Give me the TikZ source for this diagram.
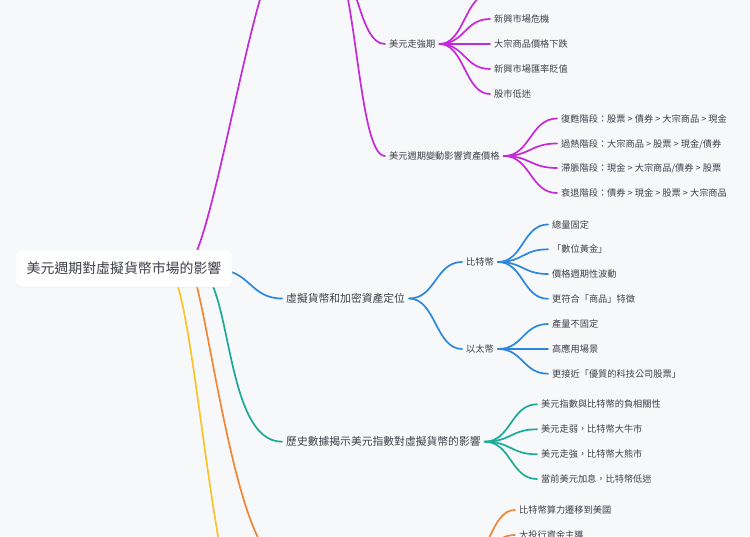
\documentclass[tikz,border=0pt]{standalone}
\usepackage{fontspec}
\setmainfont{Noto Sans CJK TC}
\usetikzlibrary{calc, shadows}
\definecolor{purple1}{RGB}{196, 43, 214}
\definecolor{blue1}{RGB}{45, 135, 220}
\definecolor{teal1}{RGB}{28, 170, 150}
\definecolor{orange1}{RGB}{240, 135, 55}
\definecolor{yellow1}{RGB}{250, 196, 45}
\definecolor{ink}{RGB}{62, 64, 72}
\definecolor{paper}{RGB}{247, 248, 250}

\begin{document}
\begin{tikzpicture}[x=1pt, y=-1pt,
  topic/.style={anchor=west, inner xsep=4pt, inner ysep=0pt, text=ink, text height=9.5pt, text depth=1.3pt, font=\fontsize{10.8}{13}\selectfont},
  leaf/.style={topic, text height=8.1pt, text depth=1.1pt, font=\fontsize{9.2}{11}\selectfont},
  rootbox/.style={fill=white, draw=black!5, rounded corners=4pt, minimum width=216pt, minimum height=37pt, text=ink, font=\fontsize{13.9}{16}\selectfont, drop shadow={shadow xshift=0pt, shadow yshift=-1pt, opacity=0.06}},
  wire/.style={line width=1.7pt, line cap=round},
  link/.style={wire, to path={let \p1=(\tikztostart), \p2=(\tikztotarget) in .. controls ({(\x1+\x2)/2},\y1) and ({(\x1+\x2)/2},\y2) .. (\tikztotarget)}}
]
  \fill[paper] (0,0) rectangle (750,536);
  \useasboundingbox (0,0) rectangle (750,536);
  \clip (0,0) rectangle (750,536);

  % hidden ends of branches cut by the frame
  \coordinate (pur) at (282,-47);
  \coordinate (purr) at (328,-47);
  \coordinate (ora) at (282,562);
  \coordinate (orar) at (465,562);
  \coordinate (yel) at (282,700);
  \coordinate (s0) at (490,-6);

  % purple branch
  \node[leaf] (strong) at (385,44) {美元走強期};
  \node[leaf] (s1) at (490,19) {新興市場危機};
  \node[leaf] (s2) at (490,44) {大宗商品價格下跌};
  \node[leaf] (s3) at (490,69) {新興市場匯率貶值};
  \node[leaf] (s4) at (490,94) {股市低迷};
  \node[leaf] (cycle) at (385,156) {美元週期變動影響資產價格};
  \node[leaf] (c1) at (557,118.5) {復甦階段：股票 > 債券 > 大宗商品 > 現金};
  \node[leaf] (c2) at (557,143.5) {過熱階段：大宗商品 > 股票 > 現金/債券};
  \node[leaf] (c3) at (557,168) {滯脹階段：現金 > 大宗商品/債券 > 股票};
  \node[leaf] (c4) at (557,193) {衰退階段：債券 > 現金 > 股票 > 大宗商品};

  % blue branch
  \node[topic] (crypto) at (282,298.5) {虛擬貨幣和加密資產定位};
  \node[leaf] (btc) at (462,262) {比特幣};
  \node[leaf] (b1) at (548,224.5) {總量固定};
  \node[leaf] (b2) at (548,249.3) {「數位黃金」};
  \node[leaf] (b3) at (548,274) {價格週期性波動};
  \node[leaf] (b4) at (548,298.8) {更符合「商品」特徵};
  \node[leaf] (eth) at (462,349) {以太幣};
  \node[leaf] (e1) at (548,324) {產量不固定};
  \node[leaf] (e2) at (548,349) {高應用場景};
  \node[leaf] (e3) at (548,373.7) {更接近「優質的科技公司股票」};

  % teal branch
  \node[topic] (hist) at (282,441.7) {歷史數據揭示美元指數對虛擬貨幣的影響};
  \node[leaf] (h1) at (537,404.3) {美元指數與比特幣的負相關性};
  \node[leaf] (h2) at (537,429.3) {美元走弱，比特幣大牛市};
  \node[leaf] (h3) at (537,454.3) {美元走強，比特幣大熊市};
  \node[leaf] (h4) at (537,479) {當前美元加息，比特幣低迷};

  % orange branch
  \node[leaf] (o1) at (515,510) {比特幣算力遷移到美國};
  \node[leaf] (o2) at (515,535) {大投行資金主導};

  % links
  \draw[link, purple1] (purr) to (strong.west);
  \draw[link, purple1] (purr) to (cycle.west);
  \foreach \k in {0,1,2,3,4} {
    \draw[link, purple1] (strong.east) to (s\k.west);
  }
  \foreach \k in {1,2,3,4} {
    \draw[link, purple1] (cycle.east) to (c\k.west);
  }
  \draw[link, blue1] (crypto.east) to (btc.west);
  \draw[link, blue1] (crypto.east) to (eth.west);
  \foreach \k in {1,2,3,4} {
    \draw[link, blue1] (btc.east) to (b\k.west);
  }
  \foreach \k in {1,2,3} {
    \draw[link, blue1] (eth.east) to (e\k.west);
  }
  \foreach \k in {1,2,3,4} {
    \draw[link, teal1] (hist.east) to (h\k.west);
  }
  \draw[link, orange1] (orar) to (o1.west);
  \draw[link, orange1] (orar) to (o2.west);

  % root links start under the root box
  \coordinate (rpur) at (185,268);
  \coordinate (rblu) at (218,270);
  \coordinate (rtea) at (195,268);
  \coordinate (rora) at (189,268);
  \coordinate (ryel) at (166.5,268);
  \draw[wire, yellow1] (ryel) .. controls ($(ryel)+(32.5,0)$) and ($(yel)+(-71,0)$) .. (yel);
  \draw[wire, orange1] (rora) .. controls ($(rora)+(15,0)$) and ($(ora)+(-48.5,0)$) .. (ora);
  \draw[wire, teal1] (rtea) .. controls ($(rtea)+(38,0)$) and ($(hist.west)+(-60,0)$) .. (hist.west);
  \draw[link, blue1] (rblu) to (crypto.west);
  \draw[wire, purple1] (rpur) .. controls ($(rpur)+(25.7,0)$) and ($(pur)+(-26.7,0)$) .. (pur);

  \node[rootbox] (root) at (124,268.5) {美元週期對虛擬貨幣市場的影響};
\end{tikzpicture}
\end{document}
